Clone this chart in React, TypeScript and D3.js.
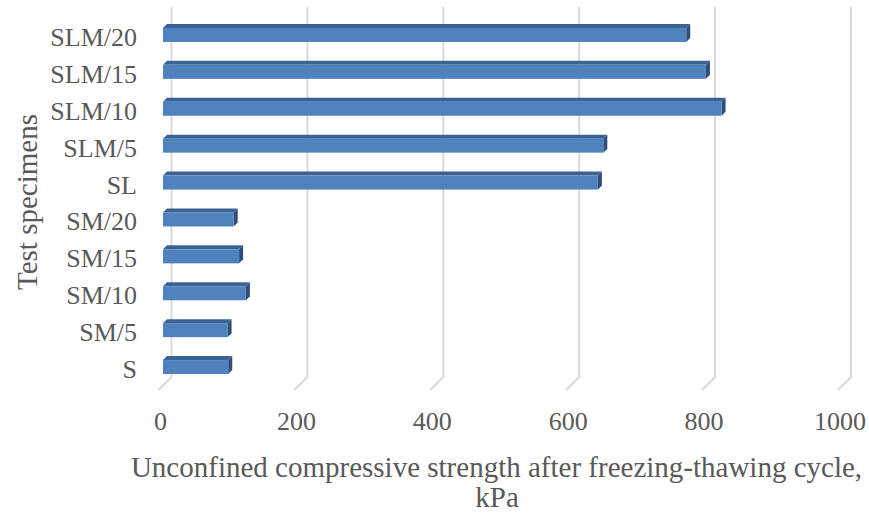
import React from "react";
import * as d3 from "d3";

const categories = ["S", "SM/5", "SM/10", "SM/15", "SM/20", "SL", "SLM/5", "SLM/10", "SLM/15", "SLM/20"];
const strength = [96, 95, 122, 112, 104, 640, 648, 822, 799, 770];
const xTicks = [0, 200, 400, 600, 800, 1000];

const W = 869;
const H = 517;
const DEPTH = 13; // floor depth (back wall -> front)
const BAR_OFF = 8.5; // bar front plane offset from back wall
const BAR_D = 4; // bar depth
const BAR_H = 14;

const FRONT = "#4f81bd";
const TOP = "#3b6294";
const SIDE = "#2e4d7b";
const GRID = "#d9d9d9";
const TEXT = "#595959";
const FONT = "'Liberation Serif', 'Times New Roman', serif";

export default function App() {
  const x = d3.scaleLinear().domain([0, 1000]).range([171.5, 851]);
  const y = d3.scaleBand<string>().domain(categories).range([377, 8]);
  const bw = y.bandwidth();
  const top = 7;
  const bottom = 377;

  return (
    <svg width={W} height={H} style={{ position: "absolute", left: 0, top: 0, background: "#fff" }}>
      {xTicks.map((t) => (
        <g key={t}>
          <path
            d={`M${x(t)},${top}L${x(t)},${bottom}L${x(t) - DEPTH},${bottom + DEPTH}`}
            fill="none"
            stroke={GRID}
            strokeWidth={2}
          />
          <text
            x={x(t) - 11}
            y={421}
            textAnchor="middle"
            dominantBaseline="central"
            fontFamily={FONT}
            fontSize={26}
            fill={TEXT}
          >
            {t}
          </text>
        </g>
      ))}
      {categories.map((c, i) => {
        const v = strength[i];
        const cy = (y(c) as number) + bw / 2 + BAR_OFF;
        const x0 = x(0) - BAR_OFF;
        const x1 = x(v) - BAR_OFF;
        const y0 = cy - BAR_H / 2;
        const y1 = cy + BAR_H / 2;
        return (
          <g key={c}>
            <path
              d={`M${x0},${y0}L${x1},${y0}L${x1 + BAR_D},${y0 - BAR_D}L${x0 + BAR_D},${y0 - BAR_D}Z`}
              fill={TOP}
            />
            <path
              d={`M${x1},${y0}L${x1 + BAR_D},${y0 - BAR_D}L${x1 + BAR_D},${y1 - BAR_D}L${x1},${y1}Z`}
              fill={SIDE}
            />
            <rect x={x0} y={y0} width={x1 - x0} height={BAR_H} fill={FRONT} />
            <text
              x={137}
              y={(y(c) as number) + bw / 2 + 11}
              textAnchor="end"
              dominantBaseline="central"
              fontFamily={FONT}
              fontSize={26}
              fill={TEXT}
            >
              {c}
            </text>
          </g>
        );
      })}
      <text
        transform={`translate(27,202) rotate(-90)`}
        textAnchor="middle"
        dominantBaseline="central"
        fontFamily={FONT}
        fontSize={29}
        fill={TEXT}
      >
        Test specimens
      </text>
      <text
        x={496.5}
        y={467}
        textAnchor="middle"
        dominantBaseline="central"
        fontFamily={FONT}
        fontSize={29}
        fill={TEXT}
      >
        Unconfined compressive strength after freezing-thawing cycle,
      </text>
      <text
        x={497}
        y={497}
        textAnchor="middle"
        dominantBaseline="central"
        fontFamily={FONT}
        fontSize={29}
        fill={TEXT}
      >
        kPa
      </text>
    </svg>
  );
}
